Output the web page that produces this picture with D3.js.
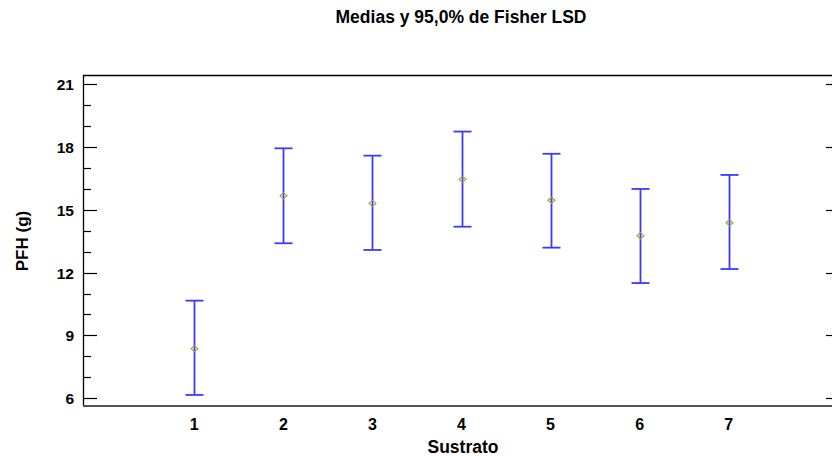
<!DOCTYPE html>
<html>
<head>
<meta charset="utf-8">
<script src="https://cdn.jsdelivr.net/npm/d3@7"></script>
<style>
  body { margin: 0; background: #fff; }
  text { font-family: "Liberation Sans", Arial, sans-serif; font-weight: bold; fill: #000; }
</style>
</head>
<body>
<svg id="chart" width="832" height="456"></svg>
<script>
// data
var groups = [1, 2, 3, 4, 5, 6, 7];
var means = [8.37, 15.67, 15.30, 16.45, 15.45, 13.76, 14.38];
var lower = [6.16, 13.40, 13.08, 14.19, 13.19, 11.50, 12.17];
var upper = [10.66, 17.93, 17.58, 18.73, 17.67, 15.99, 16.66];
var yTicks = [6, 9, 12, 15, 18, 21];
var yMinor = d3.range(6, 22, 1);

var plotL = 83, plotR = 840, plotT = 75, plotB = 406;

var svg = d3.select('#chart');

var x = d3.scaleLinear().domain([-0.25, 8.25]).range([plotL, plotR]);
var y = d3.scaleLinear().domain([21, 6]).range([84, 398.3]);

// title
svg.append('text').attr('x', 461).attr('y', 23).attr('text-anchor', 'middle')
  .style('font-size', '17.5px').text('Medias y 95,0% de Fisher LSD');

// frame
svg.append('line').attr('x1', plotL).attr('x2', plotR).attr('y1', plotT + 0.5).attr('y2', plotT + 0.5)
  .attr('stroke', '#000').attr('stroke-width', 1.3);
svg.append('line').attr('x1', plotL + 0.5).attr('x2', plotL + 0.5).attr('y1', plotT).attr('y2', plotB)
  .attr('stroke', '#000').attr('stroke-width', 1.3);
svg.append('line').attr('x1', plotL).attr('x2', plotR).attr('y1', plotB).attr('y2', plotB)
  .attr('stroke', '#555').attr('stroke-width', 2);

// y ticks, inward, both sides
var minorOnly = yMinor.filter((v) => yTicks.indexOf(v) < 0);
var tickG = svg.append('g').attr('stroke', '#000').attr('stroke-width', 1.2);
tickG.selectAll('.maj').data(yTicks).enter().append('line')
  .attr('x1', plotL).attr('x2', plotL + 14).attr('y1', (d) => Math.round(y(d)) + 0.5).attr('y2', (d) => Math.round(y(d)) + 0.5);
tickG.selectAll('.min').data(minorOnly).enter().append('line')
  .attr('x1', plotL).attr('x2', plotL + 8).attr('y1', (d) => Math.round(y(d)) + 0.5).attr('y2', (d) => Math.round(y(d)) + 0.5);
tickG.selectAll('.majr').data(yTicks).enter().append('line')
  .attr('x1', plotR - 14).attr('x2', plotR).attr('y1', (d) => Math.round(y(d)) + 0.5).attr('y2', (d) => Math.round(y(d)) + 0.5);

svg.selectAll('.ylab').data(yTicks).enter().append('text')
  .attr('x', 74).attr('y', (d) => y(d) + 6).attr('text-anchor', 'end')
  .style('font-size', '15.5px').text((d) => d);

svg.append('text').attr('transform', 'translate(28,241) rotate(-90)').attr('text-anchor', 'middle')
  .style('font-size', '17px').text('PFH (g)');

// x labels
svg.selectAll('.xlab').data(groups).enter().append('text')
  .attr('x', (d) => x(d)).attr('y', 429.5).attr('text-anchor', 'middle')
  .style('font-size', '16px').text((d) => d);
svg.append('text').attr('x', 463).attr('y', 453).attr('text-anchor', 'middle')
  .style('font-size', '17.5px').text('Sustrato');

// error bars
var bars = svg.append('g').attr('stroke', '#3a3aff').attr('stroke-width', 1.8);
groups.forEach((g, i) => {
  var cx = Math.round(x(g)) + 0.5;
  bars.append('line').attr('x1', cx).attr('x2', cx).attr('y1', y(upper[i])).attr('y2', y(lower[i]));
  bars.append('line').attr('x1', cx - 9).attr('x2', cx + 9).attr('y1', y(upper[i])).attr('y2', y(upper[i]));
  bars.append('line').attr('x1', cx - 9).attr('x2', cx + 9).attr('y1', y(lower[i])).attr('y2', y(lower[i]));
});

// mean markers
svg.selectAll('.mean').data(groups).enter().append('path')
  .attr('d', (d, i) => {
    var cx = Math.round(x(d)) + 0.5, cy = y(means[i]);
    return 'M' + (cx - 3.5) + ',' + cy + 'L' + cx + ',' + (cy - 3) + 'L' + (cx + 3.5) + ',' + cy + 'L' + cx + ',' + (cy + 3) + 'Z';
  })
  .attr('fill', 'none').attr('stroke', '#a0a030').attr('stroke-width', 1.1);
</script>
</body>
</html>
